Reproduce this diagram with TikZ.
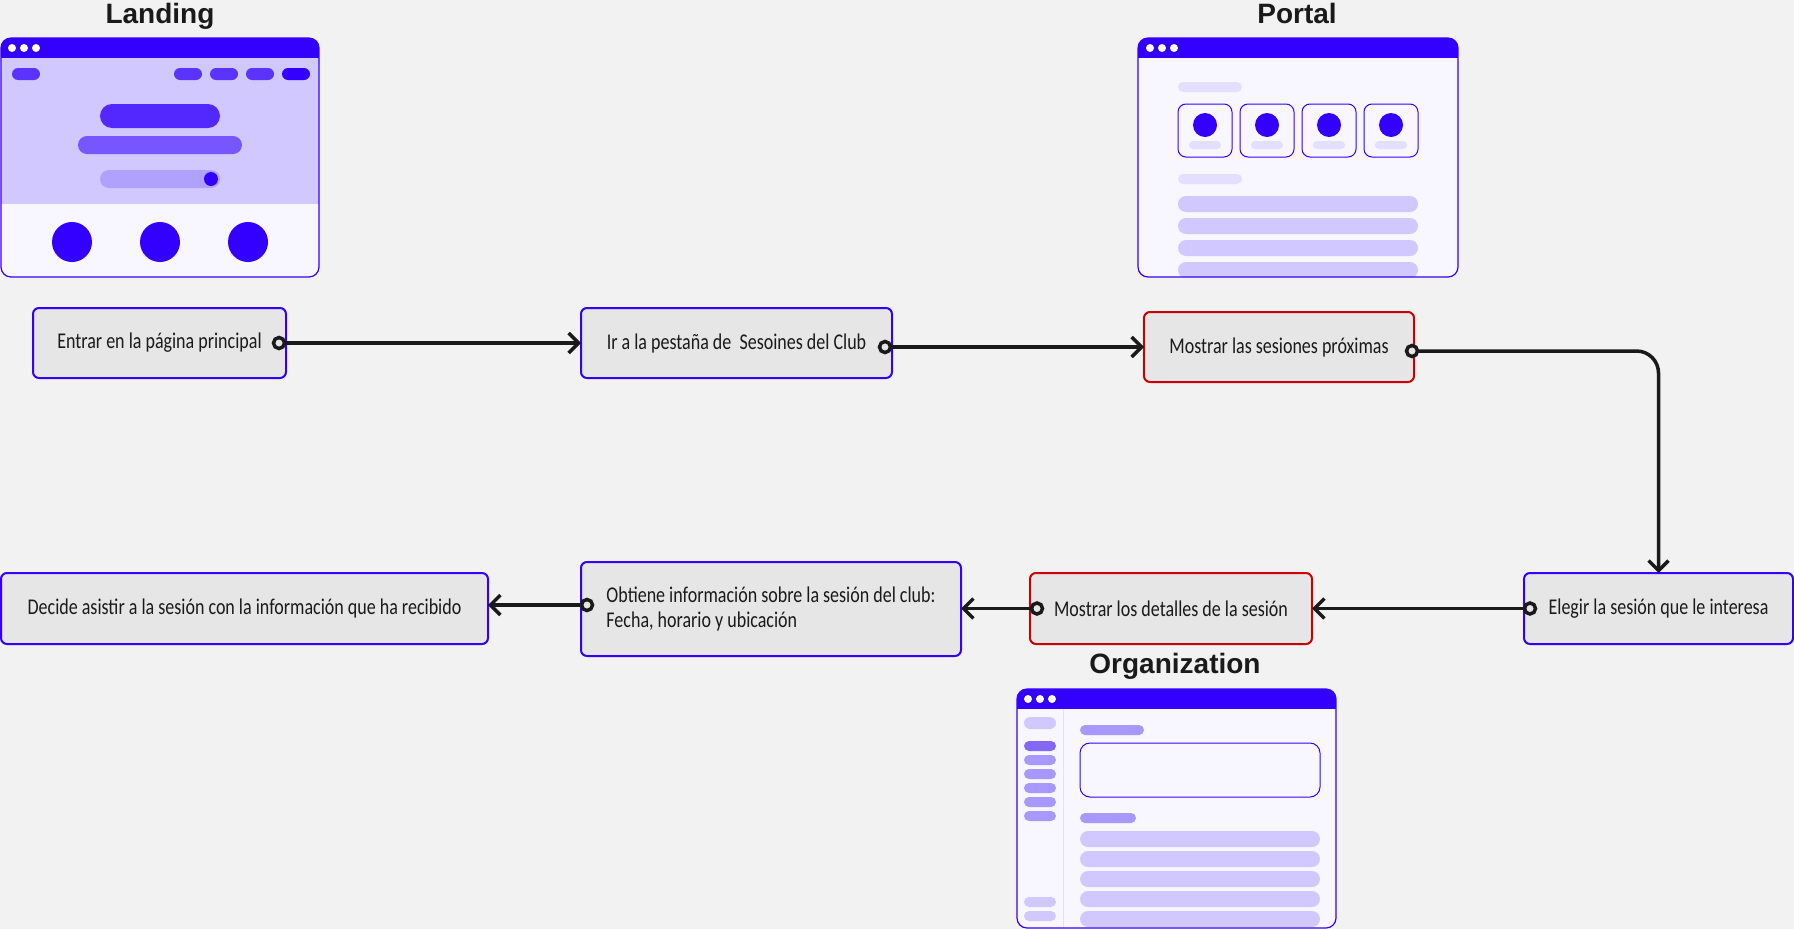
\documentclass[tikz,border=0pt]{standalone}
\usepackage{fontspec}
\setmainfont{Carlito}
\newfontfamily\boxfont{Carlito}[FakeStretch=0.80]
\newfontfamily\titlefont{Liberation Sans}
\usetikzlibrary{arrows.meta}
\definecolor{bg}{HTML}{F2F2F2}
\definecolor{winblue}{HTML}{3300FF}
\definecolor{body}{HTML}{F8F6FF}
\definecolor{lav}{HTML}{D0C8FF}
\definecolor{pale}{HTML}{E4DEFF}
\definecolor{midp}{HTML}{A898FF}
\definecolor{darkp}{HTML}{8566FF}
\definecolor{navc}{HTML}{5A33FF}
\definecolor{bigp}{HTML}{5228FF}
\definecolor{secp}{HTML}{7755FF}
\definecolor{thirdp}{HTML}{B0A0FF}
\definecolor{ink}{HTML}{1A1A1A}
\definecolor{boxfill}{HTML}{E6E6E6}
\definecolor{redb}{HTML}{CC0000}
\begin{document}
\begin{tikzpicture}[x=1pt,y=-1pt,
  stepbox/.style={draw=winblue, line width=2pt, fill=boxfill, rounded corners=6pt,
    inner sep=0pt, outer sep=0pt, text=ink, font=\boxfont\fontsize{22.5}{25}\selectfont, align=center},
  redbox/.style={stepbox, draw=redb},
  conn/.style={draw=ink, line width=3.5pt, -{Straight Barb[length=10pt, width=20pt, line width=3.5pt]}},
  dotc/.style={draw=ink, line width=3.5pt, fill=boxfill},
  ttl/.style={anchor=base, text=ink, font=\titlefont\bfseries\fontsize{28}{30}\selectfont, inner sep=0pt},
  pill/.style={rounded corners=#1}]
\useasboundingbox[fill=bg] (0,0) rectangle (1794,929);

% ---------------- Landing window
\node[ttl] (tland) at (160,23) {Landing};
\begin{scope}
  \clip[rounded corners=10pt] (1,38) rectangle (319,277);
  \fill[body] (1,38) rectangle (319,277);
  \fill[lav] (1,58) rectangle (319,204);
  \fill[winblue] (1,38) rectangle (319,58);
\end{scope}
\draw[winblue, line width=1.2pt, rounded corners=10pt] (1,38) rectangle (319,277);
\foreach \x in {12,24,36} \fill[white] (\x,48) circle (4pt);
\fill[navc, pill=6pt] (12,68) rectangle (40,80);
\fill[navc, pill=6pt] (174,68) rectangle (202,80);
\fill[navc, pill=6pt] (210,68) rectangle (238,80);
\fill[navc, pill=6pt] (246,68) rectangle (274,80);
\fill[winblue, pill=6pt] (282,68) rectangle (310,80);
\fill[bigp, pill=12pt] (100,104) rectangle (220,128);
\fill[secp, pill=9pt] (78,136) rectangle (242,154);
\fill[thirdp, pill=9pt] (100,170) rectangle (220,188);
\fill[winblue] (211,179) circle (7pt);
\foreach \x in {72,160,248} \fill[winblue] (\x,242) circle (20pt);

% ---------------- Portal window
\node[ttl] (tport) at (1297,23) {Portal};
\begin{scope}
  \clip[rounded corners=10pt] (1138,38) rectangle (1458,277);
  \fill[body] (1138,38) rectangle (1458,277);
  \fill[winblue] (1138,38) rectangle (1458,58);
  \fill[pale, pill=5pt] (1178,82) rectangle (1242,92);
  \foreach \x in {1178,1240,1302,1364} {
    \draw[winblue, line width=1pt, fill=body, rounded corners=8pt] (\x,104) rectangle (\x+54,157);
    \fill[winblue] (\x+27,125) circle (12pt);
    \fill[pale, pill=4pt] (\x+11,141) rectangle (\x+43,149);
  }
  \fill[pale, pill=5pt] (1178,174) rectangle (1242,184);
  \foreach \y in {196,218,240,262} \fill[lav, pill=8pt] (1178,\y) rectangle (1418,\y+16);
\end{scope}
\draw[winblue, line width=1.2pt, rounded corners=10pt] (1138,38) rectangle (1458,277);
\foreach \x in {1150,1162,1174} \fill[white] (\x,48) circle (4pt);

% ---------------- Organization window
\node[ttl] (torg) at (1175,673) {Organization};
\begin{scope}
  \clip[rounded corners=10pt] (1017,689) rectangle (1336,928);
  \fill[body] (1017,689) rectangle (1336,928);
  \fill[winblue] (1017,689) rectangle (1336,709);
  \draw[pale, line width=1pt] (1063,709) -- (1063,928);
  \fill[lav, pill=6pt] (1024,717) rectangle (1056,729);
  \fill[darkp, pill=5pt] (1024,741) rectangle (1056,751);
  \foreach \y in {755,769,783,797,811} \fill[midp, pill=5pt] (1024,\y) rectangle (1056,\y+10);
  \fill[lav, pill=5pt] (1024,897) rectangle (1056,907);
  \fill[lav, pill=5pt] (1024,911) rectangle (1056,921);
  \fill[midp, pill=5pt] (1080,725) rectangle (1144,735);
  \draw[winblue, line width=1pt, rounded corners=10pt] (1080,743) rectangle (1320,797);
  \fill[midp, pill=5pt] (1080,813) rectangle (1136,823);
  \foreach \y in {831,851,871,891,911} \fill[lav, pill=8pt] (1080,\y) rectangle (1320,\y+16);
\end{scope}
\draw[winblue, line width=1.2pt, rounded corners=10pt] (1017,689) rectangle (1336,928);
\foreach \x in {1028,1040,1052} \fill[white] (\x,699) circle (4pt);

% ---------------- Step boxes
\node[stepbox, minimum width=253pt, minimum height=70pt] (b1) at (159.5,343) {Entrar en la página principal};
\node[stepbox, minimum width=311pt, minimum height=70pt] (b2) at (736.5,343) {Ir a la pestaña de\ \ Sesoines del Club};
\node[redbox, minimum width=270pt, minimum height=70pt] (b3) at (1279,347) {Mostrar las sesiones próximas};
\node[stepbox, minimum width=269pt, minimum height=71pt] (b4) at (1658.5,608.5) {Elegir la sesión que le interesa};
\node[redbox, minimum width=282pt, minimum height=71pt] (b5) at (1171,608.5) {Mostrar los detalles de la sesión};
\node[stepbox, minimum width=380pt, minimum height=94pt, align=left] (b6) at (771,609) {Obtiene información sobre la sesión del club:\\Fecha, horario y ubicación};
\node[stepbox, minimum width=487pt, minimum height=71pt] (b7) at (244.5,608.5) {Decide asistir a la sesión con la información que ha recibido};

% ---------------- Connectors
\coordinate (c1) at ([xshift=-7pt]b1.east);
\coordinate (c2) at ([xshift=-7pt,yshift=-4pt]b2.east);
\coordinate (c3) at ([xshift=-2pt,yshift=-4pt]b3.east);
\coordinate (c4) at ([xshift=6pt]b4.west);
\coordinate (c5) at ([xshift=7pt]b5.west);
\coordinate (c6) at ([xshift=6pt,yshift=4pt]b6.west);

\draw[conn] (c1) -- (b2.west |- c1);
\draw[conn] (c2) -- (b3.west |- c2);
\draw[conn, rounded corners=22pt] (c3) -| (b4.north);
\draw[conn] (c4) -- (b5.east |- c4);
\draw[conn] (c5) -- (b6.east |- c5);
\draw[conn] (c6) -- (b7.east |- c6);

\foreach \c in {c1,c2,c3,c4,c5,c6} \draw[dotc] (\c) circle (5.5pt);
\end{tikzpicture}
\end{document}
